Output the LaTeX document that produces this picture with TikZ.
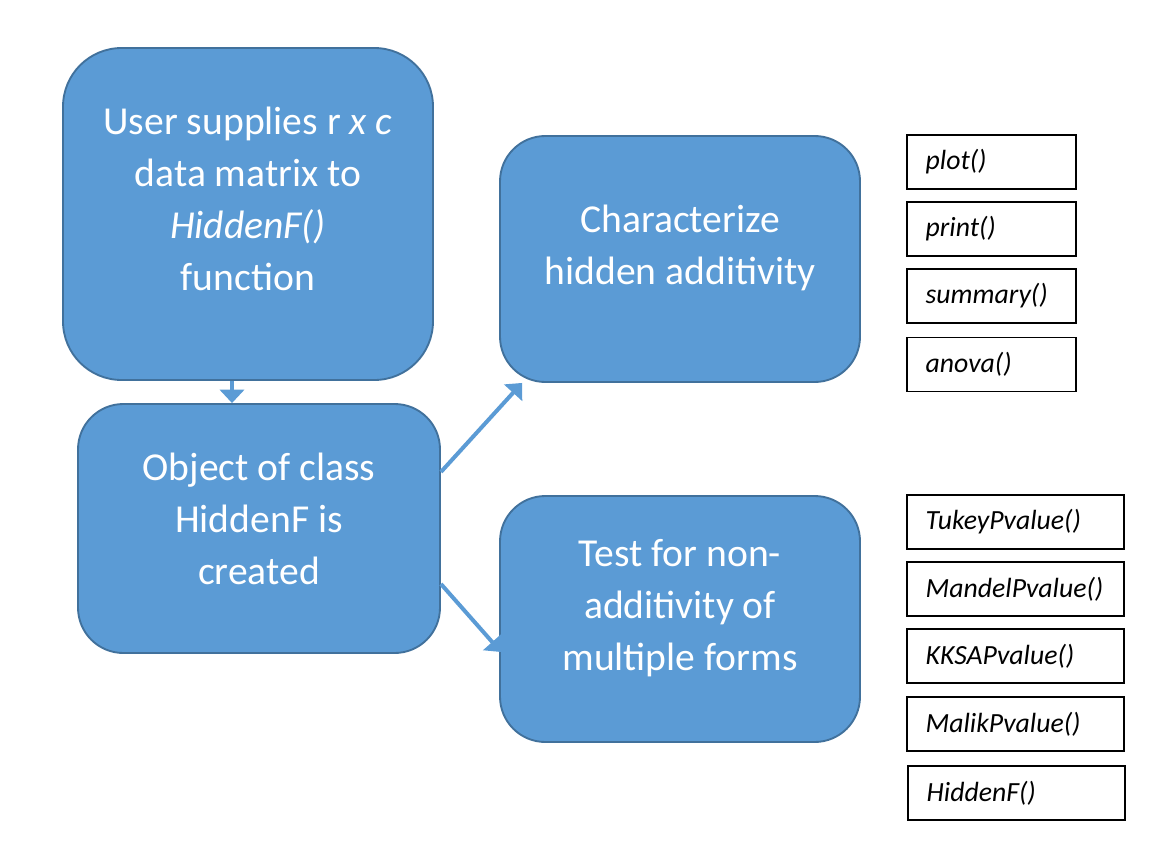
\documentclass[tikz,border=0pt]{standalone}
\usepackage{fontspec}
\setmainfont{Carlito}
\usetikzlibrary{arrows.meta}
\definecolor{boxfill}{HTML}{5B9BD5}
\definecolor{boxline}{HTML}{41719C}
\tikzset{
  bigbox/.style={draw=boxline, fill=boxfill, line width=1.4pt, rounded corners=#1},
  bigbox/.default=34pt,
  boxtext/.style={text=white, align=center, font=\fontsize{29.7}{39}\selectfont},
  fnbox/.style={draw=black, line width=1.3pt, inner xsep=14pt, align=left,
    minimum height=40.5pt, font=\fontsize{20.8}{25}\selectfont\itshape},
  flow/.style={boxfill, line width=3pt, -{Triangle[width=18pt, length=10pt]}}
}
\begin{document}
\begin{tikzpicture}[x=0.75pt, y=-0.75pt]
            \useasboundingbox (0,0) rectangle (1170,846);

            \coordinate (P) at (248,214);
            \coordinate (Q) at (259,528.5);
            \coordinate (R) at (680,259);
            \coordinate (S) at (680,619);

            \node[bigbox=44pt, minimum width=277.5pt, minimum height=249pt] (user) at (P) {};
            \node[bigbox, minimum width=271.5pt, minimum height=186.75pt] (object) at (Q) {};
            \node[bigbox, minimum width=270pt, minimum height=184.5pt] (charact) at (R) {};
            \node[bigbox, minimum width=270pt, minimum height=184.5pt] (test) at (S) {};

            \node[boxtext] (userText) at ([yshift=11pt]user.center)
              {User supplies r \textit{x c}\\ data matrix to\\ \textit{HiddenF()}\\ function};
            \node[boxtext] (objectText) at ([yshift=7.5pt]object.center)
              {Object of class\\ HiddenF is\\ created};
            \node[boxtext] (charactText) at ([yshift=8pt]charact.center)
              {Characterize\\ hidden additivity};
            \node[boxtext] (testText) at ([yshift=8pt]test.center)
              {Test for non-\\ additivity of\\ multiple forms};

            % methods for characterizing
            \node[fnbox, text width=98.75pt] (plot) at (991.5,162) {plot()};
            \node[fnbox, text width=98.75pt] (print) at (991.5,229) {print()};
            \node[fnbox, text width=98.75pt] (summary) at (991.5,296) {summary()};
            \node[fnbox, text width=98.75pt] (anova) at (991.5,364.5) {anova()};

            % tests
            \node[fnbox, text width=134.75pt] (tukey) at (1015.5,522) {TukeyPvalue()};
            \node[fnbox, text width=134.75pt] (mandel) at (1015.5,589) {MandelPvalue()};
            \node[fnbox, text width=134.75pt] (kksap) at (1015.5,656) {KKSAPvalue()};
            \node[fnbox, text width=134.75pt] (malik) at (1015.5,724) {MalikPvalue()};
            \node[fnbox, text width=134.75pt] (hidden) at (1016.5,793) {HiddenF()};

            \draw[flow] ([xshift=-12pt]user.south) -- ([xshift=-12pt]user.south |- object.north);
            \draw[flow] ([yshift=42.4pt]object.east) -- ([xshift=17.25pt]charact.south west);
            \draw[flow] ([yshift=-41.6pt]object.east) -- ([xshift=1.5pt, yshift=-24.75pt]test.west);
        \end{tikzpicture}
\end{document}
